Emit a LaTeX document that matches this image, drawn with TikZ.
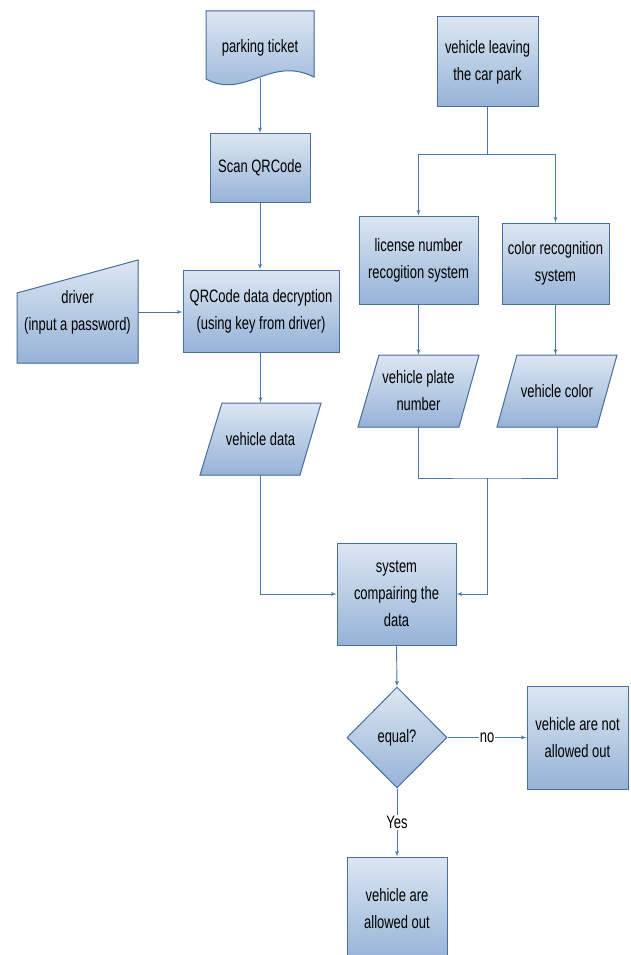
\documentclass[tikz,border=0pt]{standalone}
\usepackage{fontspec}
\setmainfont{Liberation Sans}[FakeStretch=0.72]
\usetikzlibrary{arrows,shapes.geometric}
\definecolor{boxline}{HTML}{4A6E9E}
\definecolor{boxtop}{HTML}{DCE6F2}
\definecolor{boxbot}{HTML}{95B3D7}
\definecolor{linkcol}{HTML}{4A76AE}
\tikzset{
    boxfill/.style={draw=boxline,line width=1pt,top color=boxtop,bottom color=boxbot},
    stepbox/.style={boxfill,rectangle,align=center,inner sep=2pt},
    labeltext/.style={align=center,inner sep=0pt},
    edge/.style={->,> = latex',draw=linkcol,line width=0.9pt}
}

\begin{document}
\begin{tikzpicture}[x=1pt,y=-1pt]
\clip (0,0) rectangle (631,955);
\fill[white] (0,0) rectangle (631,955);
\fontsize{18}{27}\selectfont

% left column
\filldraw[boxfill] (206,79) -- (206,11) -- (314,11) -- (314,77)
    .. controls (270,55) and (245,100) .. (206,79) -- cycle;
\node[labeltext,minimum height=60pt] (ticket) at (260,48) {parking ticket};
\node[stepbox,minimum width=100pt,minimum height=69pt] (scan) at (260,168) {Scan QRCode};
\node[stepbox,minimum width=156pt,minimum height=82pt] (decrypt) at (261,311) {QRCode data decryption\\(using key from driver)};
\filldraw[boxfill] (17,293) -- (138,260) -- (138,363) -- (17,363) -- cycle;
\node[labeltext,minimum width=121pt] (driver) at (77.5,312) {driver\\(input a password)};
\filldraw[boxfill] (222,403) -- (321,403) -- (300,475) -- (200,475) -- cycle;
\node[labeltext,minimum height=72pt] (vdata) at (260.5,439) {vehicle data};

% right column
\node[stepbox,minimum width=101pt,minimum height=90pt] (leave) at (487.5,62) {vehicle leaving\\the car park};
\node[stepbox,minimum width=119pt,minimum height=88pt] (lic) at (418.5,260) {license number\\recogition system};
\node[stepbox,minimum width=107pt,minimum height=81pt] (col) at (555.5,263.5) {color recognition\\system};
\filldraw[boxfill] (379,355) -- (479,355) -- (459,427) -- (358,427) -- cycle;
\node[labeltext,minimum height=72pt] (plate) at (418.5,391) {vehicle plate\\number};
\filldraw[boxfill] (517,355) -- (617,355) -- (597,427) -- (497,427) -- cycle;
\node[labeltext,minimum height=72pt] (vcol) at (557,391) {vehicle color};

% bottom
\node[stepbox,minimum width=119pt,minimum height=102pt] (comp) at (396.5,594) {system\\compairing the\\data};
\node[boxfill,diamond,labeltext,minimum width=100pt,minimum height=101pt] (eq) at (397,737.5) {equal?};
\node[stepbox,minimum width=101pt,minimum height=103pt] (notout) at (577.5,737.5) {vehicle are not\\allowed out};
\node[stepbox,minimum width=100pt,minimum height=104pt] (out) at (397,909) {vehicle are\\allowed out};

\coordinate (split) at (487.5,154);
\coordinate (join) at (487,478);

\draw[edge] (ticket.south) -- (scan.north);
\draw[edge] (scan.south) -- (scan.south |- decrypt.north);
\draw[edge] (driver.east) -- (decrypt.west |- driver.east);
\draw[edge] (vdata.north |- decrypt.south) -- (vdata.north);
\draw[edge] (vdata.south) |- (comp.west);
\draw[draw=linkcol,line width=0.9pt] (leave.south) -- (split);
\draw[edge] (split) -| (lic.north);
\draw[edge] (split) -| (col.north);
\draw[edge] (lic.south) -- (lic.south |- plate.north);
\draw[edge] (col.south) -- (col.south |- vcol.north);
\draw[draw=linkcol,line width=0.9pt] (plate.south) |- (join) -| (vcol.south);
\draw[edge] (join) |- (comp.east);
\draw[edge] (comp.south) -- (eq.north);
\draw[edge] (eq.east) -- (notout.west) node[midway,fill=white,inner sep=1pt] {no};
\draw[edge] (eq.south) -- (out.north) node[midway,fill=white,inner sep=1pt] {Yes};

\end{tikzpicture}
\end{document}
